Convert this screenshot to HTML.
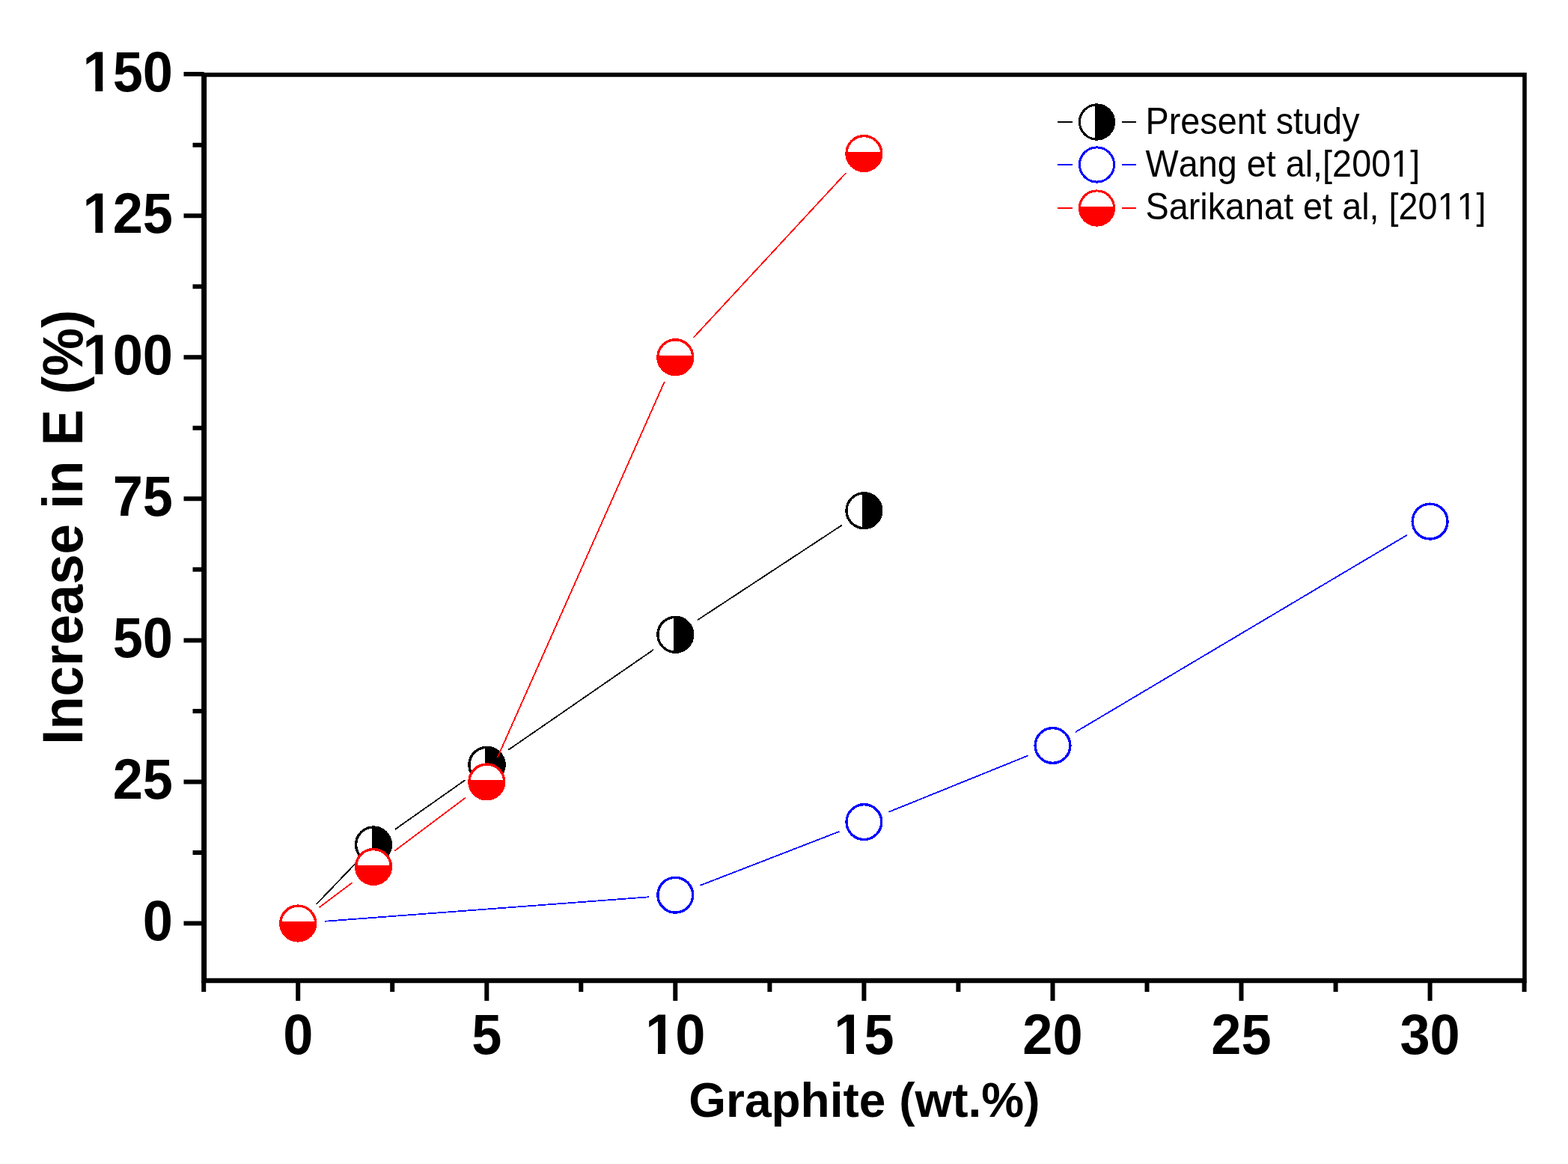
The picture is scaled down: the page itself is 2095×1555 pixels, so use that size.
<!DOCTYPE html>
<html><head><meta charset="utf-8"><title>Increase in E vs Graphite</title><style>html,body{margin:0;padding:0;background:#fff;}svg{display:block;}</style></head><body>
<svg width="2095" height="1555" viewBox="0 0 2095 1555">
<defs><clipPath id="c0"><path clip-rule="evenodd" d="M-5000,-5000H5000V5000H-5000ZM-123.00,-8.36H-109.05V2.00H-123.00ZM-98.62,-8.36H-85.63V2.00H-98.62Z"/></clipPath><clipPath id="c1"><path clip-rule="evenodd" d="M-5000,-5000H5000V5000H-5000ZM-123.00,-8.36H-109.05V2.00H-123.00ZM-98.62,-8.36H-85.63V2.00H-98.62Z"/></clipPath><clipPath id="c2"><path clip-rule="evenodd" d="M-5000,-5000H5000V5000H-5000ZM-123.00,-8.36H-109.05V2.00H-123.00ZM-98.62,-8.36H-85.63V2.00H-98.62Z"/></clipPath><clipPath id="c3"><path clip-rule="evenodd" d="M-5000,-5000H5000V5000H-5000ZM-38.47,-8.36H-24.52V2.00H-38.47ZM-14.10,-8.36H-1.11V2.00H-14.10Z"/></clipPath><clipPath id="c4"><path clip-rule="evenodd" d="M-5000,-5000H5000V5000H-5000ZM-38.47,-8.36H-24.52V2.00H-38.47ZM-14.10,-8.36H-1.11V2.00H-14.10Z"/></clipPath><clipPath id="c5"><path clip-rule="evenodd" d="M-5000,-5000H5000V5000H-5000ZM347.29,-4.28H356.91V2.00H347.29ZM361.26,-4.28H370.50V2.00H361.26Z"/></clipPath><clipPath id="c6"><path clip-rule="evenodd" d="M-5000,-5000H5000V5000H-5000ZM412.90,-4.28H422.53V2.00H412.90ZM426.88,-4.28H436.12V2.00H426.88ZM440.27,-4.28H449.89V2.00H440.27ZM454.24,-4.28H463.48V2.00H454.24Z"/></clipPath></defs>
<rect width="2095" height="1555" fill="#fff"/>
<path d="M245.5,1233.5H272.6M245.5,1044.4H272.6M245.5,855.4H272.6M245.5,666.3H272.6M245.5,477.2H272.6M245.5,288.2H272.6M245.5,99.1H272.6M257.5,1139.0H272.6M257.5,949.9H272.6M257.5,760.8H272.6M257.5,571.8H272.6M257.5,382.7H272.6M257.5,193.7H272.6M398.2,1310.0V1337.1M650.3,1310.0V1337.1M902.3,1310.0V1337.1M1154.4,1310.0V1337.1M1406.5,1310.0V1337.1M1658.5,1310.0V1337.1M1910.6,1310.0V1337.1M272.2,1310.0V1325.1M524.2,1310.0V1325.1M776.3,1310.0V1325.1M1028.4,1310.0V1325.1M1280.4,1310.0V1325.1M1532.5,1310.0V1325.1M1784.6,1310.0V1325.1M2036.6,1310.0V1325.1" stroke="#000" stroke-width="6" fill="none"/>
<path d="M269.1,96.9H2039.8V1313.2H269.1Z M276.1,102.7V1306.7H2034.2V102.7Z" fill="#000" fill-rule="evenodd"/>
<g font-family="'Liberation Sans', Arial, sans-serif" fill="#000" style="font-kerning:none">
<text transform="translate(231,1256.3) scale(0.95,1)" font-size="76" font-weight="bold" text-anchor="end">0</text>
<text transform="translate(231,1067.2) scale(0.95,1)" font-size="76" font-weight="bold" text-anchor="end">25</text>
<text transform="translate(231,878.2) scale(0.95,1)" font-size="76" font-weight="bold" text-anchor="end">50</text>
<text transform="translate(231,689.1) scale(0.95,1)" font-size="76" font-weight="bold" text-anchor="end">75</text>
<text id="n0" transform="translate(231,500.1) scale(0.95,1)" font-size="76" font-weight="bold" text-anchor="end" clip-path="url(#c0)">100</text>
<text id="n1" transform="translate(231,311.0) scale(0.95,1)" font-size="76" font-weight="bold" text-anchor="end" clip-path="url(#c1)">125</text>
<text id="n2" transform="translate(231,121.9) scale(0.95,1)" font-size="76" font-weight="bold" text-anchor="end" clip-path="url(#c2)">150</text>
<text transform="translate(398.2,1407.8) scale(0.95,1)" font-size="76" font-weight="bold" text-anchor="middle">0</text>
<text transform="translate(650.3,1407.8) scale(0.95,1)" font-size="76" font-weight="bold" text-anchor="middle">5</text>
<text id="n3" transform="translate(902.3,1407.8) scale(0.95,1)" font-size="76" font-weight="bold" text-anchor="middle" clip-path="url(#c3)">10</text>
<text id="n4" transform="translate(1154.4,1407.8) scale(0.95,1)" font-size="76" font-weight="bold" text-anchor="middle" clip-path="url(#c4)">15</text>
<text transform="translate(1406.5,1407.8) scale(0.95,1)" font-size="76" font-weight="bold" text-anchor="middle">20</text>
<text transform="translate(1658.5,1407.8) scale(0.95,1)" font-size="76" font-weight="bold" text-anchor="middle">25</text>
<text transform="translate(1910.6,1407.8) scale(0.95,1)" font-size="76" font-weight="bold" text-anchor="middle">30</text>
<text transform="translate(1154.9,1492)" font-size="64" font-weight="bold" text-anchor="middle">Graphite (wt.%)</text>
<text transform="translate(109.9,704.3) rotate(-90) scale(0.955,1)" font-size="76" font-weight="bold" text-anchor="middle">Increase in E (%)</text>
<text transform="translate(1530.5,178.7) scale(0.951,1)" font-size="49.2" font-weight="normal" text-anchor="start">Present study</text>
<text id="n5" transform="translate(1530.5,235.9) scale(0.951,1)" font-size="49.2" font-weight="normal" text-anchor="start" clip-path="url(#c5)">Wang et al,[2001]</text>
<text id="n6" transform="translate(1530.5,293.1) scale(0.951,1)" font-size="49.2" font-weight="normal" text-anchor="start" clip-path="url(#c6)">Sarikanat et al, [2011]</text>
</g>
<path d="M422.8,1207.9L474.5,1154.0M528.0,1107.9L621.3,1042.2M679.5,1001.6L873.1,868.0M932.0,828.3L1124.7,701.7" stroke="#000" stroke-width="1.8" fill="none" shape-rendering="crispEdges"/>
<g shape-rendering="crispEdges"><circle cx="499.0" cy="1128.4" r="23.4" fill="#fff" stroke="#000" stroke-width="3.4"/><path d="M496.7,1103.4A25.1,25.1 0 1 1 496.7,1153.4Z" fill="#000"/></g><g shape-rendering="crispEdges"><circle cx="650.3" cy="1021.8" r="23.4" fill="#fff" stroke="#000" stroke-width="3.4"/><path d="M648.0,996.8A25.1,25.1 0 1 1 648.0,1046.7Z" fill="#000"/></g><g shape-rendering="crispEdges"><circle cx="902.3" cy="847.8" r="23.4" fill="#fff" stroke="#000" stroke-width="3.4"/><path d="M900.0,822.8A25.1,25.1 0 1 1 900.0,872.8Z" fill="#000"/></g><g shape-rendering="crispEdges"><circle cx="1154.4" cy="682.2" r="23.4" fill="#fff" stroke="#000" stroke-width="3.4"/><path d="M1152.1,657.2A25.1,25.1 0 1 1 1152.1,707.2Z" fill="#000"/></g>
<path d="M433.6,1230.8L866.9,1198.3M935.4,1182.9L1121.3,1110.9M1187.3,1084.8L1373.6,1009.4M1437.0,977.9L1880.1,714.7" stroke="#00f" stroke-width="1.8" fill="none" shape-rendering="crispEdges"/>
<g shape-rendering="crispEdges"><circle cx="902.3" cy="1195.7" r="23.4" fill="#fff" stroke="#00f" stroke-width="3.4"/></g><g shape-rendering="crispEdges"><circle cx="1154.4" cy="1098.1" r="23.4" fill="#fff" stroke="#00f" stroke-width="3.4"/></g><g shape-rendering="crispEdges"><circle cx="1406.5" cy="996.0" r="23.4" fill="#fff" stroke="#00f" stroke-width="3.4"/></g><g shape-rendering="crispEdges"><circle cx="1910.6" cy="696.6" r="23.4" fill="#fff" stroke="#00f" stroke-width="3.4"/></g>
<path d="M426.6,1212.2L470.6,1179.2M527.4,1136.6L621.9,1065.7M664.7,1012.0L887.9,509.7M926.4,451.2L1130.3,231.0" stroke="#f00" stroke-width="1.8" fill="none" shape-rendering="crispEdges"/>
<g shape-rendering="crispEdges"><circle cx="398.2" cy="1233.5" r="23.4" fill="#fff" stroke="#f00" stroke-width="3.4"/><path d="M373.2,1231.2A25.1,25.1 0 1 0 423.2,1231.2Z" fill="#f00"/></g><g shape-rendering="crispEdges"><circle cx="499.0" cy="1157.9" r="23.4" fill="#fff" stroke="#f00" stroke-width="3.4"/><path d="M474.0,1155.6A25.1,25.1 0 1 0 524.0,1155.6Z" fill="#f00"/></g><g shape-rendering="crispEdges"><circle cx="650.3" cy="1044.4" r="23.4" fill="#fff" stroke="#f00" stroke-width="3.4"/><path d="M625.3,1042.1A25.1,25.1 0 1 0 675.3,1042.1Z" fill="#f00"/></g><g shape-rendering="crispEdges"><circle cx="902.3" cy="477.2" r="23.4" fill="#fff" stroke="#f00" stroke-width="3.4"/><path d="M877.3,474.9A25.1,25.1 0 1 0 927.3,474.9Z" fill="#f00"/></g><g shape-rendering="crispEdges"><circle cx="1154.4" cy="205.0" r="23.4" fill="#fff" stroke="#f00" stroke-width="3.4"/><path d="M1129.4,202.7A25.1,25.1 0 1 0 1179.4,202.7Z" fill="#f00"/></g>
<path d="M1413,163H1433M1499,163H1518" stroke="#000" stroke-width="1.8" shape-rendering="crispEdges"/>
<g shape-rendering="crispEdges"><circle cx="1465.5" cy="163.0" r="23.1" fill="#fff" stroke="#000" stroke-width="3.0"/><path d="M1463.2,138.5A24.6,24.6 0 1 1 1463.2,187.5Z" fill="#000"/></g>
<path d="M1413,220H1433M1499,220H1518" stroke="#00f" stroke-width="1.8" shape-rendering="crispEdges"/>
<g shape-rendering="crispEdges"><circle cx="1465.5" cy="220.0" r="23.1" fill="#fff" stroke="#00f" stroke-width="3.0"/></g>
<path d="M1413,278H1433M1499,278H1518" stroke="#f00" stroke-width="1.8" shape-rendering="crispEdges"/>
<g shape-rendering="crispEdges"><circle cx="1465.5" cy="278.0" r="23.1" fill="#fff" stroke="#f00" stroke-width="3.0"/><path d="M1441.0,275.7A24.6,24.6 0 1 0 1490.0,275.7Z" fill="#f00"/></g>
</svg>
</body></html>
